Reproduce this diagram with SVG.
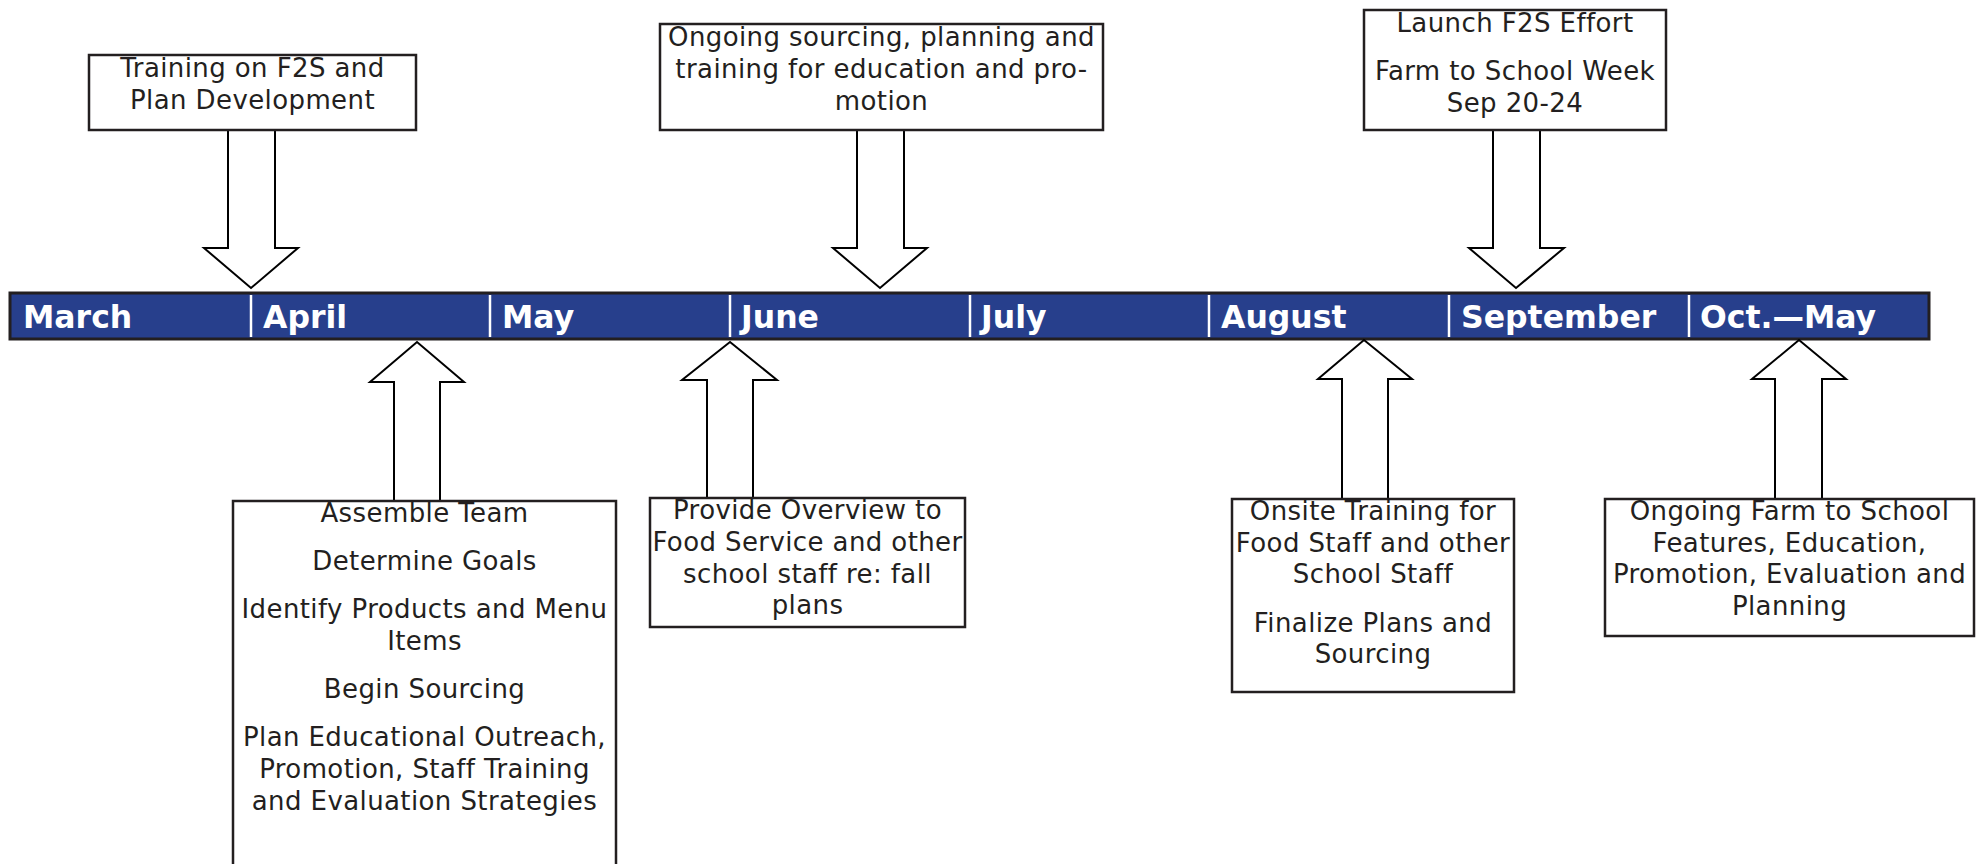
<svg xmlns="http://www.w3.org/2000/svg" width="1979" height="864" viewBox="0 0 1979 864">
<style>
.bg{fill:#ffffff}
.box{fill:#ffffff;stroke:#231f20;stroke-width:2.5}
.arr{fill:#ffffff;stroke:#000000;stroke-width:2;stroke-linejoin:miter}
.t{font-family:"DejaVu Sans","Verdana",sans-serif;font-size:26px;letter-spacing:0.4px;fill:#231f20;text-anchor:middle}
.bar{fill:#273f8c;stroke:#231f20;stroke-width:3}
.sep{stroke:#ffffff;stroke-width:2.5}
.m{font-family:"DejaVu Sans","Verdana",sans-serif;font-size:31.5px;font-weight:bold;fill:#ffffff}
</style>
<rect class="bg" x="0" y="0" width="1979" height="864"/>
<g id="timeline">
<rect class="bar" x="10" y="293" width="1919" height="46"/>
<line class="sep" x1="251" y1="295" x2="251" y2="337"/>
<line class="sep" x1="490" y1="295" x2="490" y2="337"/>
<line class="sep" x1="730" y1="295" x2="730" y2="337"/>
<line class="sep" x1="970" y1="295" x2="970" y2="337"/>
<line class="sep" x1="1209" y1="295" x2="1209" y2="337"/>
<line class="sep" x1="1449" y1="295" x2="1449" y2="337"/>
<line class="sep" x1="1689" y1="295" x2="1689" y2="337"/>
<text class="m" x="23" y="328">March</text>
<text class="m" x="263" y="328">April</text>
<text class="m" x="502" y="328">May</text>
<text class="m" x="741" y="328">June</text>
<text class="m" x="981" y="328">July</text>
<text class="m" x="1221" y="328">August</text>
<text class="m" x="1461" y="328">September</text>
<text class="m" x="1700" y="328">Oct.—May</text>
</g>
<g id="connectors">
<path class="arr" d="M228,130 V248 H204 L251,288 L298,248 H275 V130"/>
<path class="arr" d="M857,130 V248 H833 L880,288 L927,248 H904 V130"/>
<path class="arr" d="M1493,130 V248 H1469 L1516,288 L1564,248 H1540 V130"/>
<path class="arr" d="M394,501 V382 H370 L417,342 L464,382 H440 V501"/>
<path class="arr" d="M707,498 V380 H682 L730,342 L777,380 H753 V498"/>
<path class="arr" d="M1342,499 V379 H1318 L1364,340 L1412,379 H1388 V499"/>
<path class="arr" d="M1775,499 V379 H1752 L1799,340 L1846,379 H1822 V499"/>
</g>
<g id="n1">
<rect class="box" x="89" y="55" width="327" height="75"/>
<text class="t" x="252.5" y="77">Training on F2S and</text>
<text class="t" x="252.5" y="109">Plan Development</text>
</g>
<g id="n2">
<rect class="box" x="660" y="24" width="443" height="106"/>
<text class="t" x="881.5" y="46">Ongoing sourcing, planning and</text>
<text class="t" x="881.5" y="78">training for education and pro-</text>
<text class="t" x="881.5" y="110">motion</text>
</g>
<g id="n3">
<rect class="box" x="1364" y="10" width="302" height="120"/>
<text class="t" x="1515" y="32">Launch F2S Effort</text>
<text class="t" x="1515" y="80">Farm to School Week</text>
<text class="t" x="1515" y="112">Sep 20-24</text>
</g>
<g id="n4">
<rect class="box" x="233" y="501" width="383" height="380"/>
<text class="t" x="424.5" y="522">Assemble Team</text>
<text class="t" x="424.5" y="570">Determine Goals</text>
<text class="t" x="424.5" y="618">Identify Products and Menu</text>
<text class="t" x="424.5" y="650">Items</text>
<text class="t" x="424.5" y="698">Begin Sourcing</text>
<text class="t" x="424.5" y="746">Plan Educational Outreach,</text>
<text class="t" x="424.5" y="778">Promotion, Staff Training</text>
<text class="t" x="424.5" y="810">and Evaluation Strategies</text>
</g>
<g id="n5">
<rect class="box" x="650" y="498" width="315" height="129"/>
<text class="t" x="807.5" y="519">Provide Overview to</text>
<text class="t" x="807.5" y="551">Food Service and other</text>
<text class="t" x="807.5" y="583">school staff re: fall</text>
<text class="t" x="807.5" y="614">plans</text>
</g>
<g id="n6">
<rect class="box" x="1232" y="499" width="282" height="193"/>
<text class="t" x="1373" y="520">Onsite Training for</text>
<text class="t" x="1373" y="552">Food Staff and other</text>
<text class="t" x="1373" y="583">School Staff</text>
<text class="t" x="1373" y="632">Finalize Plans and</text>
<text class="t" x="1373" y="663">Sourcing</text>
</g>
<g id="n7">
<rect class="box" x="1605" y="499" width="369" height="137"/>
<text class="t" x="1789.5" y="520">Ongoing Farm to School</text>
<text class="t" x="1789.5" y="552">Features, Education,</text>
<text class="t" x="1789.5" y="583">Promotion, Evaluation and</text>
<text class="t" x="1789.5" y="615">Planning</text>
</g>
</svg>
